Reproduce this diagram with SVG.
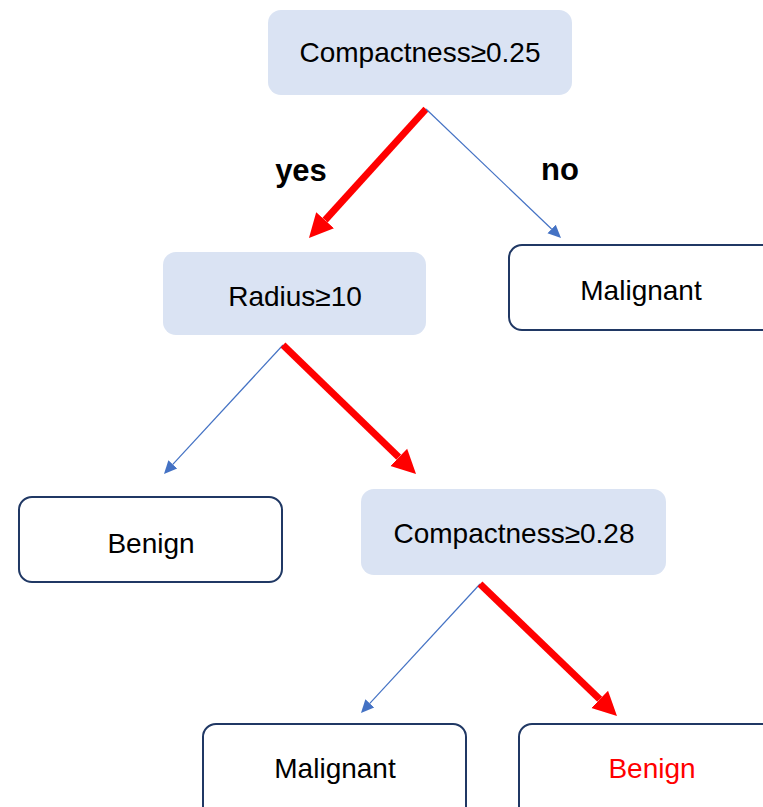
<svg xmlns="http://www.w3.org/2000/svg" width="763" height="807" viewBox="0 0 763 807">
  <style>
    .split rect { fill: #DAE3F3; stroke: none; }
    .leaf rect { fill: #FFFFFF; stroke: #203864; stroke-width: 2; }
    text { font-family: "Liberation Sans", Arial, sans-serif; font-size: 28px; fill: #000; text-anchor: middle; dominant-baseline: central; }
    .label { font-weight: bold; font-size: 31px; }
    .hot { fill: #FF0000; }
    .path-taken { stroke: #FF0000; stroke-width: 7; fill: none; }
    .path-other { stroke: #4472C4; stroke-width: 1.2; fill: none; }
  </style>
  <defs>
    <marker id="head-red" markerUnits="userSpaceOnUse" markerWidth="26" markerHeight="26" viewBox="0 -13 26 26" refX="0" refY="0" orient="auto">
      <path d="M0,-12 L24,0 L0,12 z" fill="#FF0000"/>
    </marker>
    <marker id="head-blue" markerUnits="userSpaceOnUse" markerWidth="14" markerHeight="14" viewBox="0 -7 14 14" refX="0" refY="0" orient="auto">
      <path d="M0,-6 L13,0 L0,6 z" fill="#4472C4"/>
    </marker>
  </defs>

  <g id="connectors">
    <line class="path-taken" x1="426" y1="109" x2="325.1" y2="220.2" marker-end="url(#head-red)"/>
    <line class="path-other" x1="426" y1="109" x2="551.6" y2="229.0" marker-end="url(#head-blue)"/>
    <line class="path-other" x1="283" y1="345" x2="172.8" y2="464.4" marker-end="url(#head-blue)"/>
    <line class="path-taken" x1="283" y1="345" x2="398.8" y2="457.3" marker-end="url(#head-red)"/>
    <line class="path-other" x1="480" y1="584" x2="369.8" y2="703.4" marker-end="url(#head-blue)"/>
    <line class="path-taken" x1="480" y1="584" x2="599.7" y2="699.3" marker-end="url(#head-red)"/>
    <text class="label" x="301" y="170">yes</text>
    <text class="label" x="560" y="169">no</text>
  </g>

  <g id="root" class="split">
    <rect x="268" y="10" width="304" height="85" rx="13"/>
    <text x="420" y="52">Compactness≥0.25</text>
  </g>

  <g id="malignant-right" class="leaf">
    <rect x="509" y="245" width="270" height="85" rx="13"/>
    <text x="641" y="290">Malignant</text>
  </g>

  <g id="radius" class="split">
    <rect x="163" y="252" width="263" height="83" rx="13"/>
    <text x="295" y="296">Radius≥10</text>
  </g>

  <g id="benign-left" class="leaf">
    <rect x="19" y="497" width="263" height="85" rx="13"/>
    <text x="151" y="543">Benign</text>
  </g>

  <g id="compactness-second" class="split">
    <rect x="361" y="489" width="305" height="86" rx="13"/>
    <text x="514" y="533">Compactness≥0.28</text>
  </g>

  <g id="malignant-bottom" class="leaf">
    <rect x="203" y="724" width="263" height="100" rx="13"/>
    <text x="335" y="768">Malignant</text>
  </g>

  <g id="benign-bottom" class="leaf">
    <rect x="519" y="724" width="270" height="100" rx="13"/>
    <text class="hot" x="652" y="768">Benign</text>
  </g>
</svg>
